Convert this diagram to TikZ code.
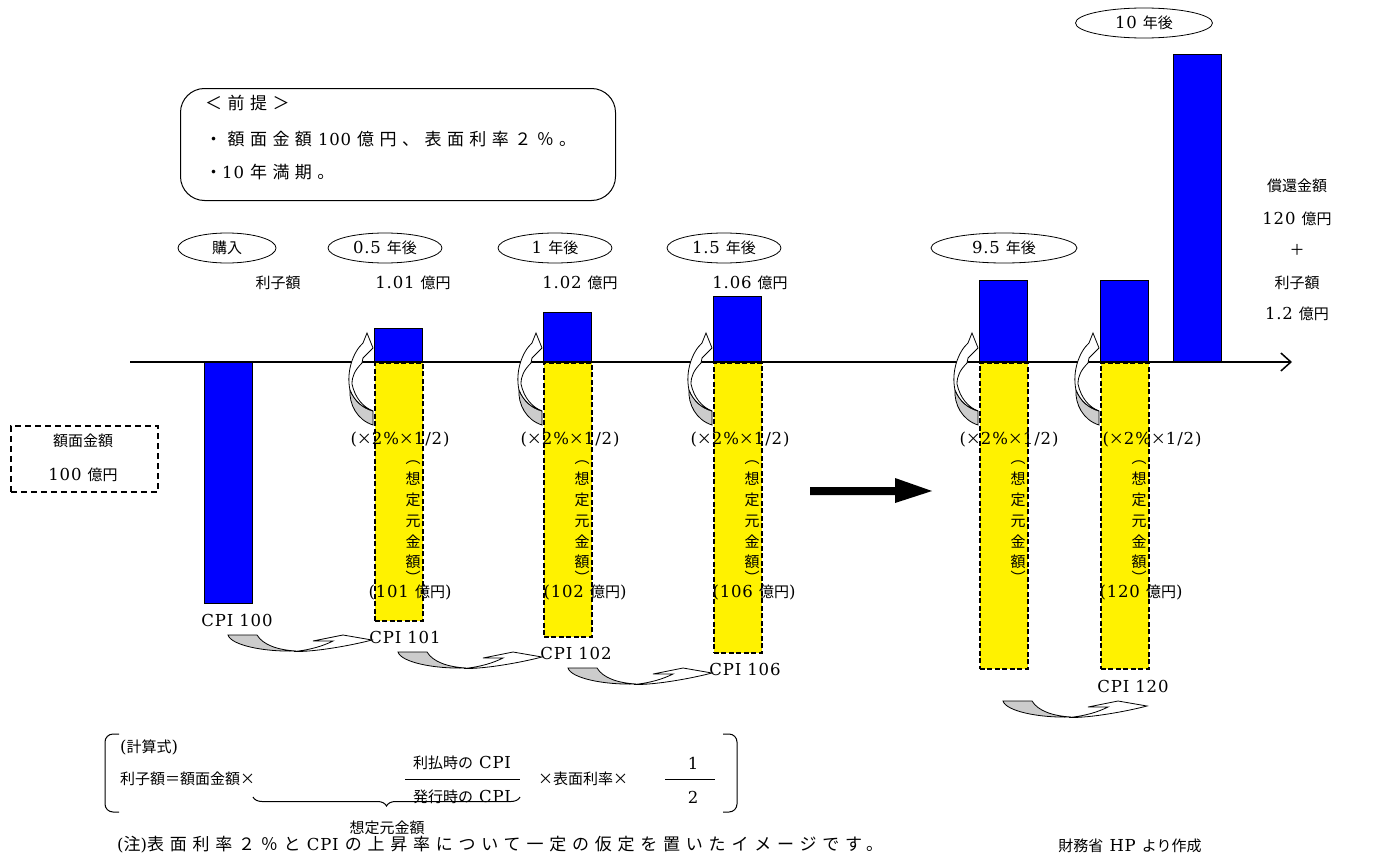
\documentclass[tikz,border=0pt]{standalone}
\usepackage{fontspec}
\setmainfont{DejaVu Serif}[LetterSpace=5]
\newfontfamily\cjk{Noto Sans CJK JP}
\newfontfamily\cjkwide{Noto Sans CJK JP}[LetterSpace=32]
\newfontfamily\cjknote{Noto Sans CJK JP}[LetterSpace=34]
\usetikzlibrary{arrows.meta,decorations.pathreplacing,shapes.geometric}
\newcommand\J[1]{{\fontsize{15}{17}\cjk #1}}
\newcommand\JW[1]{{\fontsize{17}{19}\cjkwide #1}}
\newcommand\JN[1]{{\fontsize{17}{19}\cjknote #1}}
\begin{document}
\begin{tikzpicture}[x=1pt,y=-1pt,
  every node/.style={inner sep=0pt, font=\fontsize{16.5}{18}\selectfont},
  bluebar/.style={draw=black, fill=blue, line width=1pt, minimum width=48pt},
  yelbar/.style={draw=black, fill=yellow, line width=1.8pt, dash pattern=on 5pt off 2.5pt, minimum width=48pt},
  oval/.style={draw, ellipse, line width=0.8pt, minimum height=30pt},
  vcurl/.pic={
    \filldraw[fill=black!20, line width=0.8pt] (0,63) .. controls (-16,58) and (-24,42) .. (-23,28) .. controls (-18,40) and (-10,46) .. (0,49) -- cycle;
    \filldraw[fill=white, line width=0.8pt] (-23,28) .. controls (-27,10) and (-20,-10) .. (-10,-19) -- (-6,-29) -- (0,-14) -- (-10,-4) -- (-11,1) .. controls (-18,8) and (-21,14) .. (-21,22) .. controls (-18,36) and (-10,45) .. (0,49) .. controls (-10,46) and (-18,40) .. (-23,28) -- cycle;
  },
  hcurl/.pic={
    \filldraw[fill=black!20, line width=0.8pt] (0,0) -- (29,0) .. controls (35,10) and (50,15) .. (68,16) .. controls (35,17) and (3,10) .. (0,0) -- cycle;
    \filldraw[fill=white, line width=0.8pt] (66,16.5) .. controls (88,17) and (125,10) .. (144,5) -- (115,0) -- (85,6) -- (105,6) .. controls (95,11) and (82,15) .. (66,16.5) -- cycle;
  }
]
\useasboundingbox (0,0) rectangle (1376,859);

% premise box
\node[draw, rounded corners=24pt, line width=1pt, minimum width=435pt, minimum height=112pt, anchor=north west] (premise) at (180,88) {};
\node[anchor=west] (p1) at (205,103) {\JW{＜前提＞}};
\node[anchor=west] (p2) at (205,139) {\JW{・額面金額} 100 \JW{億円、表面利率２％。}};
\node[anchor=west] (p3) at (205,172) {\JW{・}10 \JW{年満期。}};

% axis
\coordinate (ax0) at (130,362);
\coordinate (ax1) at (1292,362);
\draw[line width=1.5pt, -{Straight Barb[length=10pt,width=18pt,line width=1.5pt]}] (ax0) -- (ax1);

% bars
\node[bluebar, anchor=north west, minimum height=241pt] (b0) at (204,362) {};
\node[bluebar, anchor=south west, minimum height=33pt] (b1) at (374,362) {};
\node[bluebar, anchor=south west, minimum height=49pt] (b2) at (543,362) {};
\node[bluebar, anchor=south west, minimum height=65pt] (b3) at (713,362) {};
\node[bluebar, anchor=south west, minimum height=81pt] (b4) at (979,362) {};
\node[bluebar, anchor=south west, minimum height=81pt] (b5) at (1100,362) {};
\node[bluebar, anchor=south west, minimum height=307pt] (b6) at (1173,362) {};

\node[yelbar, anchor=north west, minimum height=258pt] (y1) at (374,362) {};
\node[yelbar, anchor=north west, minimum height=274pt] (y2) at (543,362) {};
\node[yelbar, anchor=north west, minimum height=290pt] (y3) at (713,362) {};
\node[yelbar, anchor=north west, minimum height=306pt] (y4) at (979,362) {};
\node[yelbar, anchor=north west, minimum height=306pt] (y5) at (1100,362) {};

% curled arrows beside bars
\foreach \lx in {373,542,712,978,1099}
  \pic at (\lx,362) {vcurl};

% ovals
\node[oval, minimum width=98pt] (o0) at (227,248) {\J{購入}};
\node[oval, minimum width=114pt] (o1) at (385,248) {0.5 \J{年後}};
\node[oval, minimum width=114pt] (o2) at (555,248) {1 \J{年後}};
\node[oval, minimum width=114pt] (o3) at (724,248) {1.5 \J{年後}};
\node[oval, minimum width=146pt] (o4) at (1004,248) {9.5 \J{年後}};
\node[oval, minimum width=137pt] (o5) at (1144,23) {10 \J{年後}};

% interest labels
\node (r0) at (278,283) {\J{利子額}};
\node (r1) at (413,283) {1.01 \J{億円}};
\node (r2) at (580,283) {1.02 \J{億円}};
\node (r3) at (750,283) {1.06 \J{億円}};

% right labels
\node (q1) at (1297,186) {\J{償還金額}};
\node (q2) at (1297,219) {120 \J{億円}};
\node (q3) at (1297,250) {\J{＋}};
\node (q4) at (1297,283) {\J{利子額}};
\node (q5) at (1297,314) {1.2 \J{億円}};

% face value box
\node[draw, line width=1.8pt, dash pattern=on 6pt off 4pt, minimum width=147pt, minimum height=66pt, anchor=north west] (fv) at (10,425) {};
\node (fv1) at (83,441) {\J{額面金額}};
\node (fv2) at (83,475) {100 \J{億円}};

% rate labels
\node (m1) at (400,440) {(\J{×}2\%\J{×}1/2)};
\node (m2) at (570,440) {(\J{×}2\%\J{×}1/2)};
\node (m3) at (740,440) {(\J{×}2\%\J{×}1/2)};
\node (m4) at (1009,440) {(\J{×}2\%\J{×}1/2)};
\node (m5) at (1152,440) {(\J{×}2\%\J{×}1/2)};

% vertical text
\foreach \cx in {413,582,752,1018,1139}{
  \foreach \c/\yy in {︵/463,想/479,定/500,元/521,金/542,額/562,︶/577}
    \node at (\cx,\yy) {\J{\c}};
}

% notional amounts
\node (n1) at (410,593) {(101 \J{億円})};
\node (n2) at (585,593) {(102 \J{億円})};
\node (n3) at (754,593) {(106 \J{億円})};
\node (n5) at (1141,593) {(120 \J{億円})};

% CPI labels
\node (c0) at (237,620) {CPI 100};
\node (c1) at (405,637) {CPI 101};
\node (c2) at (576,653) {CPI 102};
\node (c3) at (745,669) {CPI 106};
\node (c5) at (1133,686) {CPI 120};

% bottom curled arrows
\pic at (228,635) {hcurl};
\pic at (398,652) {hcurl};
\pic at (568,668) {hcurl};
\pic at (1003,701) {hcurl};

% big arrow
\fill (810,487) -- (895,487) -- (895,478) -- (932,491) -- (895,503) -- (895,495) -- (810,495) -- cycle;

% formula
\draw[line width=1pt, rounded corners=8pt] (119,734) -- (105,734) -- (105,812) -- (119,812);
\draw[line width=1pt, rounded corners=8pt] (723,734) -- (737,734) -- (737,812) -- (723,812);
\node[anchor=west] (calc) at (120,747) {(\J{計算式})};
\node[anchor=west] (f1) at (120,779) {\J{利子額＝額面金額×}};
\node (num) at (462,763) {\J{利払時の} CPI};
\node (den) at (462,797) {\J{発行時の} CPI};
\draw[line width=0.8pt] (405,779) -- (520,779);
\node[anchor=west] (f2) at (538,779) {\J{×表面利率×}};
\node (one) at (693,763) {1};
\node (two) at (693,797) {2};
\draw[line width=0.8pt] (665,779) -- (715,779);
\draw[line width=1pt, decorate, decoration={brace, mirror, amplitude=9pt}] (253,797) -- (520,797);
\node (sotei) at (387,828) {\J{想定元金額}};
\node[anchor=west] (note) at (117,845) {(\JN{注})\JN{表面利率２％と} CPI \JN{の上昇率について一定の仮定を置いたイメージです。}};
\node (src) at (1130,846) {\J{財務省} HP \J{より作成}};
\end{tikzpicture}
\end{document}
